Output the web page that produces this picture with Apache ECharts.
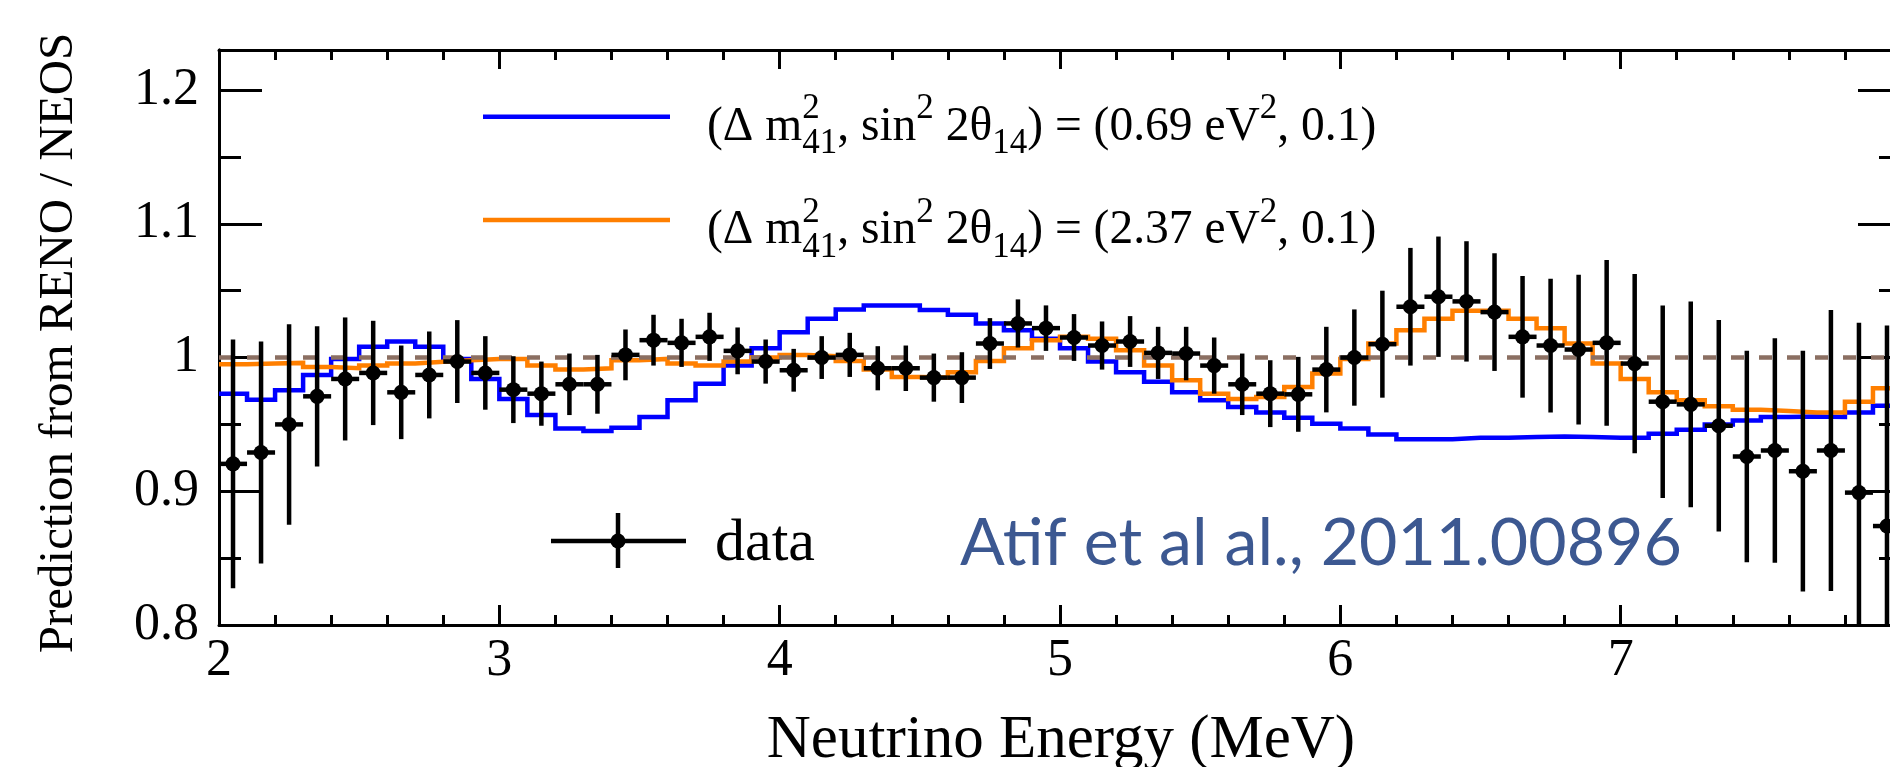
<!DOCTYPE html>
<html>
<head>
<meta charset="utf-8">
<script src="https://cdn.jsdelivr.net/npm/echarts@6/dist/echarts.min.js"></script>
<style>
html,body{margin:0;padding:0;background:#fff;}
#chart{width:1890px;height:767px;}
</style>
</head>
<body>
<div id="chart"></div>
<script>
// ---------------- data ----------------
const binEdges = [2.0,2.1,2.2,2.3,2.4,2.5,2.6,2.7,2.8,2.9,
                  3.0,3.1,3.2,3.3,3.4,3.5,3.6,3.7,3.8,3.9,
                  4.0,4.1,4.2,4.3,4.4,4.5,4.6,4.7,4.8,4.9,
                  5.0,5.1,5.2,5.3,5.4,5.5,5.6,5.7,5.8,5.9,
                  6.0,6.1,6.2,6.3,6.4,6.5,6.6,6.7,6.8,6.9,
                  7.0,7.1,7.2,7.3,7.4,7.5,7.6,7.7,7.8,7.9,8.0];
const binCenters = [2.05,2.15,2.25,2.35,2.45,2.55,2.65,2.75,2.85,2.95,
                    3.05,3.15,3.25,3.35,3.45,3.55,3.65,3.75,3.85,3.95,
                    4.05,4.15,4.25,4.35,4.45,4.55,4.65,4.75,4.85,4.95,
                    5.05,5.15,5.25,5.35,5.45,5.55,5.65,5.75,5.85,5.95,
                    6.05,6.15,6.25,6.35,6.45,6.55,6.65,6.75,6.85,6.95,
                    7.05,7.15,7.25,7.35,7.45,7.55,7.65,7.75,7.85,7.95];
const binHalfWidth = 0.05;
// (dm41^2, sin^2 2th14) = (0.69 eV^2, 0.1)
const blueRatio = [0.973,0.9685,0.9755,0.987,0.999,1.008,1.012,1.008,0.999,0.984,
                   0.969,0.957,0.947,0.945,0.9475,0.9555,0.968,0.9805,0.994,1.007,
                   1.019,1.029,1.036,1.039,1.039,1.0355,1.032,1.0255,1.0205,1.014,
                   1.007,0.997,0.989,0.982,0.974,0.968,0.963,0.959,0.955,0.9505,
                   0.947,0.9425,0.939,0.939,0.94,0.94,0.9405,0.941,0.9405,0.94,
                   0.94,0.943,0.946,0.95,0.953,0.9555,0.956,0.9555,0.959,0.964];
// (dm41^2, sin^2 2th14) = (2.37 eV^2, 0.1)
const orangeRatio = [0.995,0.9955,0.996,0.993,0.992,0.994,0.9955,0.9968,0.998,0.999,
                     0.999,0.994,0.991,0.992,0.998,0.999,0.9955,0.994,0.997,1.0,
                     1.002,1.001,0.9975,0.991,0.9855,0.985,0.989,0.9975,1.007,1.013,
                     1.0155,1.014,1.0055,0.994,0.983,0.973,0.969,0.9705,0.978,0.988,
                     0.999,1.0105,1.0205,1.029,1.035,1.035,1.029,1.022,1.0105,0.9955,
                     0.984,0.974,0.968,0.9635,0.961,0.96,0.959,0.959,0.967,0.977];
const dataRatio = [0.9205,0.929,0.95,0.971,0.984,0.9885,0.974,0.987,0.997,0.9885,
                   0.976,0.973,0.98,0.98,1.002,1.013,1.011,1.0155,1.005,0.997,
                   0.9905,1.0,1.002,0.992,0.992,0.985,0.985,1.0105,1.0255,1.022,
                   1.015,1.009,1.012,1.0035,1.003,0.994,0.98,0.973,0.9725,0.991,
                   1.0,1.01,1.038,1.0455,1.042,1.034,1.0155,1.009,1.006,1.011,
                   0.9955,0.967,0.965,0.949,0.926,0.9305,0.915,0.9305,0.899,0.874];
const dataError = [0.093,0.083,0.075,0.0525,0.046,0.039,0.035,0.0325,0.031,0.0275,
                   0.025,0.024,0.023,0.022,0.019,0.019,0.018,0.018,0.0175,0.0165,
                   0.016,0.016,0.0165,0.0165,0.017,0.018,0.019,0.019,0.018,0.017,
                   0.0175,0.018,0.019,0.0195,0.02,0.021,0.023,0.025,0.028,0.032,
                   0.036,0.04,0.044,0.045,0.045,0.044,0.0455,0.05,0.056,0.062,
                   0.067,0.072,0.077,0.079,0.079,0.084,0.09,0.105,0.127,0.15];
const referenceRatio = 1;
const xTickLabels = [2,3,4,5,6,7];
const yTickLabels = [0.8,0.9,1,1.1,1.2];
const xRange = [2, 8];
const yRange = [0.8, 1.23];

// ---------------- helpers ----------------
const SERIF = '"Liberation Serif", "Times New Roman", serif';
const SANS = 'Lato, "Open Sans", sans-serif';
const mctx = document.createElement('canvas').getContext('2d');
function baseOff(font){
  mctx.font = font;
  mctx.textBaseline = 'alphabetic';
  const a = mctx.measureText('Hg').fontBoundingBoxAscent;
  mctx.textBaseline = 'middle';
  const m = mctx.measureText('Hg').fontBoundingBoxAscent;
  mctx.textBaseline = 'alphabetic';
  return a - m;
}
function textW(t, font){ mctx.font = font; return mctx.measureText(t).width; }
function txt(t, x, baseline, size, family, color, align){
  const font = size + 'px ' + family;
  return {type:'text', silent:true, z:50,
    style:{text:t, x:x, y:baseline - baseOff(font), font:font, fill:color,
      align:align||'left', verticalAlign:'middle', textAlign:align||'left', textVerticalAlign:'middle'}};
}
function richLine(x0, baseline, groups, family, color){
  const els = []; let x = x0;
  groups.forEach(g => {
    let adv = 0;
    g.forEach(p => {
      const font = p.s + 'px ' + family;
      els.push(txt(p.t, x, baseline + (p.dy||0), p.s, family, color));
      adv = Math.max(adv, textW(p.t, font));
    });
    x += adv;
  });
  return els;
}
function stepData(vals){
  const d = vals.map((v,i) => [binEdges[i], v]);
  d.push([binEdges[binEdges.length-1], vals[vals.length-1]]);
  return d;
}

// ---------------- chart ----------------
const chart = echarts.init(document.getElementById('chart'), null, {renderer:'canvas'});
const axisLine = {show:true, onZero:false, lineStyle:{color:'#000', width:3}};
const tickStyle = {color:'#000', width:3};
function xAx(pos, showLabel){
  return {type:'value', position:pos, min:xRange[0], max:xRange[1], interval:1,
    axisLine:axisLine, splitLine:{show:false}, minorSplitLine:{show:false},
    axisTick:{show:true, inside:true, length:pos==='bottom'?20:19, lineStyle:tickStyle},
    minorTick:{show:true, splitNumber:5, length:10, lineStyle:tickStyle},
    axisLabel: showLabel ? {show:true, customValues:xTickLabels, fontSize:52, fontFamily:SERIF, color:'#000', margin:10} : {show:false}};
}
function yAx(pos, interval, len, showLabel){
  return {type:'value', position:pos, min:yRange[0], max:yRange[1], interval:interval,
    axisLine:axisLine, splitLine:{show:false},
    axisTick:{show:true, inside:true, length:len, lineStyle:tickStyle},
    axisLabel: showLabel ? {show:true, customValues:yTickLabels, fontSize:52, fontFamily:SERIF, color:'#000', margin:20} : {show:false}};
}

function renderPoint(params, api){
  const x = api.value(0), y = api.value(1), e = api.value(2);
  const c = api.coord([x, y]);
  const t = api.coord([x, y + e]);
  const b = api.coord([x, y - e]);
  const l = api.coord([x - binHalfWidth, y]);
  const r = api.coord([x + binHalfWidth, y]);
  const st = {stroke:'#000', lineWidth:4.5};
  return {type:'group', children:[
    {type:'line', shape:{x1:c[0], y1:t[1], x2:c[0], y2:b[1]}, style:st},
    {type:'line', shape:{x1:l[0], y1:c[1], x2:r[0], y2:c[1]}, style:st},
    {type:'circle', shape:{cx:c[0], cy:c[1], r:7.5}, style:{fill:'#000'}}
  ]};
}

const M = 47.5, S = 35, SUP = -21.5, SUB = 13.5;
function legendGroups(mass){
  return [
    [{t:'(\u0394 m', s:M}],
    [{t:'2', s:S, dy:SUP}, {t:'41', s:S, dy:SUB}],
    [{t:', sin', s:M}],
    [{t:'2', s:S, dy:SUP}],
    [{t:' 2\u03b8', s:M}],
    [{t:'14', s:S, dy:SUB}],
    [{t:') = (' + mass + ' eV', s:M}],
    [{t:'2', s:S, dy:SUP}],
    [{t:', 0.1)', s:M}]
  ];
}

const atifText = 'Atif et al al., 2011.00896';
const atifSize = 722 / textW(atifText, '100px ' + SANS) * 100;

const graphics = [].concat(
  [{type:'line', silent:true, z:50, shape:{x1:483, y1:116.7, x2:670, y2:116.7}, style:{stroke:'#0000ff', lineWidth:4.5}},
   {type:'line', silent:true, z:50, shape:{x1:483, y1:220, x2:670, y2:220}, style:{stroke:'#ff7f00', lineWidth:4.5}}],
  richLine(707, 139.5, legendGroups('0.69'), SERIF, '#000'),
  richLine(707, 243, legendGroups('2.37'), SERIF, '#000'),
  [{type:'line', silent:true, z:50, shape:{x1:551, y1:541, x2:686, y2:541}, style:{stroke:'#000', lineWidth:4.5}},
   {type:'line', silent:true, z:50, shape:{x1:618, y1:513, x2:618, y2:568}, style:{stroke:'#000', lineWidth:4.5}},
   {type:'circle', silent:true, z:50, shape:{cx:618, cy:541, r:7.5}, style:{fill:'#000'}}],
  [txt('data', 715, 560, 60, SERIF, '#000')],
  [txt(atifText, 960, 565, atifSize, SANS, '#3c5891')],
  [txt('Neutrino Energy (MeV)', 1061, 756.5, 61, SERIF, '#000', 'center')],
  [{type:'text', silent:true, z:50, x:59, y:343, rotation:Math.PI/2,
    style:{text:'Prediction from RENO / NEOS', x:0, y:0, font:'49px ' + SERIF, fill:'#000',
      align:'center', verticalAlign:'middle', textAlign:'center', textVerticalAlign:'middle'}}]
);

chart.setOption({
  animation:false,
  backgroundColor:'#fff',
  grid:{left:219, right:-11, top:50, bottom:142, containLabel:false, outerBoundsMode:'none'},
  xAxis:[xAx('bottom', true), xAx('top', false)],
  yAxis:[yAx('left', 0.1, 43, true), yAx('left', 0.05, 22, false), yAx('right', 0.1, 43, false), yAx('right', 0.05, 22, false)],
  series:[
    {type:'line', name:'0.69', data:stepData(blueRatio), step:'end', symbol:'none', showSymbol:false,
     lineStyle:{color:'#0000ff', width:4.5, join:'miter'}, clip:true, z:2},
    {type:'line', name:'2.37', data:stepData(orangeRatio), step:'end', symbol:'none', showSymbol:false,
     lineStyle:{color:'#ff7f00', width:4.5, join:'miter'}, clip:true, z:3},
    {type:'line', name:'ref', data:[[xRange[0], referenceRatio],[xRange[1], referenceRatio]], symbol:'none', showSymbol:false,
     lineStyle:{color:'#8b6f62', width:4.5, type:[13,15]}, clip:true, z:4},
    {type:'custom', name:'data', renderItem:renderPoint, clip:true, z:5,
     data: binCenters.map((c,i) => [c, dataRatio[i], dataError[i]])}
  ],
  graphic: graphics
});
</script>
</body>
</html>
